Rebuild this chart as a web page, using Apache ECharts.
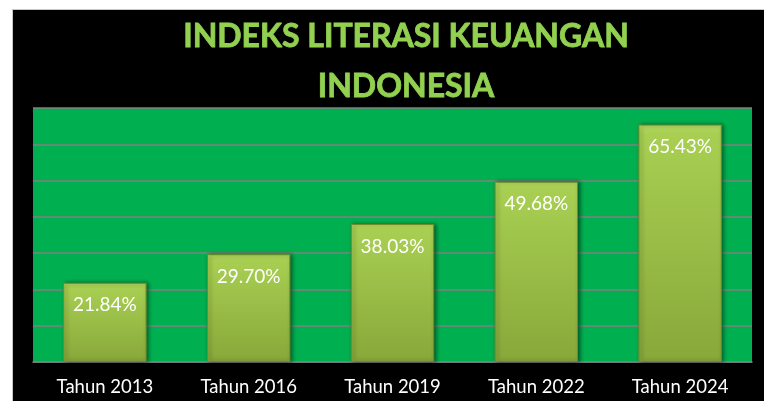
<!DOCTYPE html>
<html lang="id">
<head>
<meta charset="UTF-8">
<title>Indeks Literasi Keuangan Indonesia</title>
<style>
    html, body {
        margin: 0;
        padding: 0;
        width: 764px;
        height: 401px;
        background: #fff;
        overflow: hidden;
    }
    #chart {
        position: absolute;
        left: 12px;
        top: 9px;
        width: 752px;
        height: 392px;
        background: #000;
        border-top: 1px solid #c8c8c8;
        border-left: 1px solid #c8c8c8;
        box-sizing: border-box;
    }
</style>
</head>
<body>
<div id="chart"></div>
<script src="https://cdn.jsdelivr.net/npm/echarts@6/dist/echarts.min.js"></script>
<script>
    // data
    const categories = ['Tahun 2013', 'Tahun 2016', 'Tahun 2019', 'Tahun 2022', 'Tahun 2024'];
    const values = [21.84, 29.70, 38.03, 49.68, 65.43];
    const titleText = 'INDEKS LITERASI KEUANGAN\nINDONESIA';

    const chart = echarts.init(document.getElementById('chart'));

    chart.setOption({
        backgroundColor: '#000',
        animation: false,
        title: {
            text: titleText,
            left: 388,
            top: -3,
            textAlign: 'center',
            textStyle: {
                color: '#92d050',
                fontFamily: 'Lato',
                fontWeight: 'bold',
                fontSize: 32,
                lineHeight: 50,
                textBorderColor: '#92d050',
                textBorderWidth: 0.8
            }
        },
        grid: {
            left: 20,
            right: 12,
            top: 98,
            bottom: 39,
            show: true,
            backgroundColor: '#00b050',
            borderWidth: 0
        },
        xAxis: {
            type: 'category',
            data: categories,
            axisLine: { show: true, lineStyle: { color: '#808080', width: 1.5 } },
            axisTick: { show: false },
            axisLabel: {
                color: '#fff',
                fontFamily: 'Lato',
                fontSize: 18.5,
                margin: 16
            }
        },
        yAxis: {
            type: 'value',
            min: 0,
            max: 70,
            interval: 10,
            axisLine: { show: false },
            axisTick: { show: false },
            axisLabel: { show: false },
            splitLine: { lineStyle: { color: '#808080', width: 1.5 } }
        },
        series: [{
            type: 'bar',
            data: values,
            barWidth: '58%',
            itemStyle: {
                color: new echarts.graphic.LinearGradient(0, 0, 0, 1, [
                    { offset: 0, color: '#b4d862' },
                    { offset: 0.04, color: '#a8cf52' },
                    { offset: 1, color: '#88a83a' }
                ]),
                borderColor: '#6f8c28',
                borderWidth: 1,
                shadowColor: 'rgba(0,0,0,0.45)',
                shadowBlur: 4,
                shadowOffsetX: 2,
                shadowOffsetY: 0
            },
            label: {
                show: true,
                position: 'insideTop',
                distance: 13,
                color: '#fff',
                fontFamily: 'Lato',
                fontSize: 19,
                formatter: p => p.value.toFixed(2) + '%'
            }
        }]
    });
</script>
</body>
</html>
